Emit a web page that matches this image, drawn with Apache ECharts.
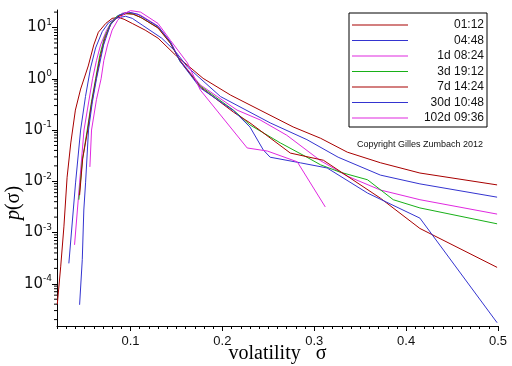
<!DOCTYPE html>
<html>
<head>
<meta charset="utf-8">
<script src="https://cdn.jsdelivr.net/npm/echarts@6/dist/echarts.min.js"></script>
<style>html,body{margin:0;padding:0;background:#fff}#c{width:512px;height:366px}</style>
</head>
<body>
<div id="c"></div>
<script>
// Series labels (legend)
const names = ['01:12', '04:48', '1d 08:24', '3d 19:12', '7d 14:24', '30d 10:48', '102d 09:36'];
const colors = ['#a80000', '#3434d0', '#e028e0', '#18b018', '#a80000', '#3434d0', '#e028e0'];

// [sigma, p(sigma)]
const s0112 = [[0.0203,3.98e-5],[0.024,2.14e-4],[0.0275,1.29e-3],[0.031,1.2e-2],[0.035,5.6e-2],[0.040,0.245],[0.0457,0.63],[0.054,1.78],[0.060,4.57],[0.065,8.1],[0.073,12.0],[0.080,15.1],[0.087,15.8],[0.093,14.5],[0.102,12.0],[0.116,8.9],[0.130,6.2],[0.149,2.9],[0.179,1.02],[0.209,0.48],[0.241,0.245],[0.277,0.115],[0.307,0.069],[0.336,0.037],[0.372,0.023],[0.415,0.0145],[0.499,0.0085]];
const s0448 = [[0.0329,2.5e-4],[0.0402,9.3e-3],[0.0457,0.1],[0.051,0.45],[0.0565,1.62],[0.062,4.0],[0.0692,8.3],[0.076,12.3],[0.0837,15.1],[0.0946,16.6],[0.102,15.1],[0.1127,11.2],[0.134,6.2],[0.149,3.4],[0.162,1.7],[0.198,0.45],[0.252,0.138],[0.292,0.065],[0.326,0.0295],[0.372,0.0132],[0.415,0.0089],[0.499,0.0049]];
const s1d = [[0.0391,5.75e-4],[0.0446,9.3e-3],[0.0494,0.1],[0.0587,1.0],[0.063,2.29],[0.0674,4.57],[0.074,8.91],[0.0804,13.8],[0.0913,19.1],[0.098,20.0],[0.111,17.4],[0.130,10.7],[0.1435,5.25],[0.154,2.29],[0.176,0.759],[0.216,0.245],[0.241,0.158],[0.270,0.0794],[0.307,0.0251],[0.336,0.0126],[0.372,0.00676],[0.415,0.00437],[0.499,0.00229]];
const s3d = [[0.0438,4.37e-3],[0.0475,0.0251],[0.0529,0.1],[0.0575,0.355],[0.062,1.0],[0.0665,2.82],[0.0715,6.31],[0.078,11.7],[0.085,16.6],[0.094,19.1],[0.102,18.6],[0.111,15.8],[0.130,10.0],[0.1435,5.01],[0.154,2.19],[0.176,0.724],[0.212,0.245],[0.230,0.126],[0.263,0.0562],[0.292,0.0295],[0.307,0.0209],[0.328,0.0151],[0.358,0.0107],[0.386,0.00437],[0.415,0.00302],[0.499,0.00148]];
const s7d = [[0.0446,5.37e-3],[0.048,0.0282],[0.0535,0.1],[0.0575,0.316],[0.0625,1.0],[0.067,2.63],[0.072,6.03],[0.0785,11.5],[0.086,16.2],[0.095,18.6],[0.103,18.2],[0.112,15.5],[0.130,9.77],[0.1435,4.9],[0.154,2.24],[0.176,0.692],[0.212,0.224],[0.230,0.138],[0.274,0.0355],[0.310,0.0257],[0.372,0.00468],[0.415,0.0012],[0.499,2.09e-4]];
const s30d = [[0.0446,3.89e-5],[0.0475,2.95e-4],[0.0492,2.75e-3],[0.0511,9.33e-3],[0.0543,0.1],[0.0585,0.355],[0.063,1.0],[0.0707,4.57],[0.078,11.2],[0.087,17.4],[0.098,20.0],[0.108,18.2],[0.130,10.5],[0.1435,5.25],[0.154,2.19],[0.176,0.661],[0.212,0.24],[0.230,0.115],[0.2446,0.0407],[0.252,0.0295],[0.285,0.0229],[0.314,0.0182],[0.358,0.00589],[0.415,0.00191],[0.499,1.74e-5]];
const s102d = [[0.0558,0.0191],[0.0576,0.1],[0.063,0.398],[0.068,1.0],[0.071,2.29],[0.075,4.57],[0.080,8.91],[0.086,13.8],[0.093,18.6],[0.100,21.4],[0.111,20.0],[0.130,12.0],[0.1435,5.62],[0.162,2.04],[0.176,0.603],[0.227,0.0447],[0.249,0.0389],[0.2815,0.024],[0.312,0.00316]];
const seriesData = [s0112, s0448, s1d, s3d, s7d, s30d, s102d];

// Axis ranges and minor tick mantissas
const X_MIN = 0.02, X_MAX = 0.5;
const Y_MIN = 1.5e-5, Y_MAX = 22;
const minorMantissas = [2, 3, 4, 5, 6, 7, 8, 9];
const decades = [1e-5, 1e-4, 1e-3, 1e-2, 1e-1, 1, 10];

const minorTicks = [];
decades.forEach(d => minorMantissas.forEach(m => {
  const v = m * d;
  if (v >= Y_MIN && v <= Y_MAX) minorTicks.push([X_MIN, v]);
}));

const chart = echarts.init(document.getElementById('c'), null, {renderer: 'canvas'});
const series = seriesData.map((d, i) => ({
  name: names[i], type: 'line', data: d, symbol: 'none', showSymbol: false,
  lineStyle: {width: 1, color: colors[i]}, itemStyle: {color: colors[i]},
  emphasis: {disabled: true}, silent: true, z: 2 + i
}));
series.push({
  type: 'custom', data: minorTicks, clip: false, silent: true, z: 20,
  xAxisIndex: 0, yAxisIndex: 0,
  renderItem: function (params, api) {
    const p = api.coord([api.value(0), api.value(1)]);
    return {type: 'line', shape: {x1: p[0] - 3, y1: p[1], x2: p[0], y2: p[1]},
      style: {stroke: '#000', lineWidth: 1}};
  }
});

chart.setOption({
  animation: false,
  backgroundColor: '#fff',
  grid: {left: 57, right: 14, top: 10, bottom: 40, containLabel: false, outerBoundsMode: 'none'},
  legend: {
    data: names, orient: 'vertical', left: 349, top: 13,
    padding: [6, 3, 3, 3], icon: 'rect', itemWidth: 56, itemHeight: 1, itemGap: 3.5,
    borderColor: '#000', borderWidth: 1, backgroundColor: '#fff',
    selectedMode: false,
    formatter: n => '{r|' + n + '}',
    textStyle: {
      fontFamily: 'Liberation Sans', fontSize: 12, color: '#111', lineHeight: 12,
      rich: {r: {width: 71, align: 'right', fontFamily: 'Liberation Sans', fontSize: 12, lineHeight: 12, color: '#111'}}
    }
  },
  xAxis: [{
    type: 'value', min: X_MIN, max: X_MAX,
    name: 'volatility   σ', nameLocation: 'middle', nameGap: 18, nameMoveOverlap: false,
    nameTextStyle: {fontFamily: 'Liberation Serif', fontSize: 20, color: '#000'},
    axisLine: {lineStyle: {color: '#000', width: 1}},
    axisTick: {length: 5, lineStyle: {color: '#000'}},
    axisLabel: {showMinLabel: false, margin: 9, fontFamily: 'Liberation Sans', fontSize: 13, color: '#111',
      formatter: v => (Math.round(v * 10) / 10).toString()},
    splitLine: {show: false}
  }, {
    type: 'value', min: X_MIN, max: X_MAX, interval: 0.01, position: 'bottom',
    axisLine: {show: false}, axisLabel: {show: false}, splitLine: {show: false},
    axisTick: {length: 3, lineStyle: {color: '#000'}}
  }],
  yAxis: {
    type: 'log', logBase: 10, min: Y_MIN, max: Y_MAX,
    axisLine: {show: true, lineStyle: {color: '#000', width: 1}},
    axisTick: {show: true, length: 5, lineStyle: {color: '#000'}},
    splitLine: {show: false},
    axisLabel: {
      showMinLabel: false, showMaxLabel: false, margin: 5,
      formatter: v => '{b|10}{s|' + Math.round(Math.log10(v)) + '}',
      rich: {
        b: {fontFamily: 'DejaVu Sans', fontSize: 15, color: '#111', lineHeight: 19},
        s: {fontFamily: 'DejaVu Sans', fontSize: 9, color: '#111', lineHeight: 9, verticalAlign: 'top'}
      }
    }
  },
  graphic: [{
    type: 'text', x: 420, y: 145,
    style: {text: 'Copyright Gilles Zumbach 2012', font: '9px Liberation Sans', fill: '#111',
      align: 'center', verticalAlign: 'middle', textAlign: 'center', textVerticalAlign: 'middle'}
  }, {
    type: 'text', x: 14, y: 203, rotation: Math.PI / 2,
    style: {text: '{i|p}(σ)', fill: '#000', font: '20px Liberation Serif',
      align: 'center', verticalAlign: 'middle', textAlign: 'center', textVerticalAlign: 'middle',
      rich: {i: {fontStyle: 'italic', fontFamily: 'Liberation Serif', fontSize: 20, fill: '#000'}}}
  }],
  series: series
});
</script>
</body>
</html>
